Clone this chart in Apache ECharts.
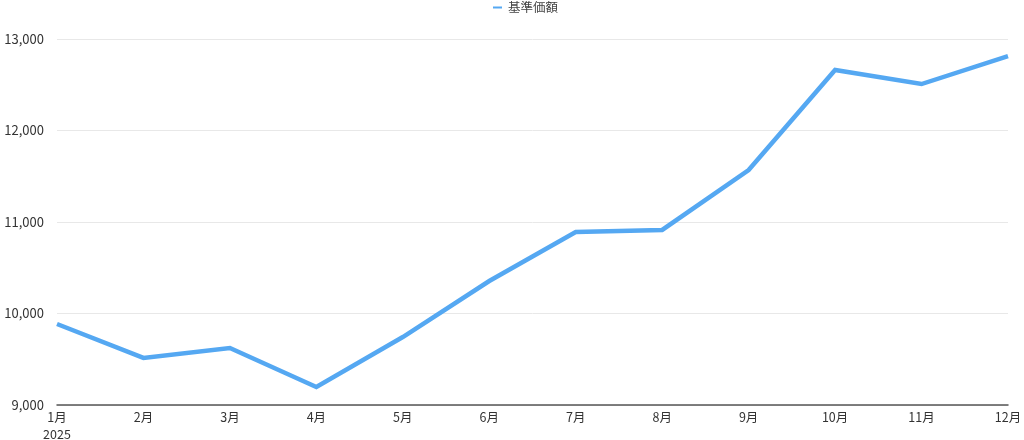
<!DOCTYPE html>
<html>
<head>
<meta charset="utf-8">
<script src="https://cdn.jsdelivr.net/npm/echarts@6/dist/echarts.min.js"></script>
<style>
html,body{margin:0;padding:0;background:#fff;}
#chart{width:1024px;height:440px;}
</style>
</head>
<body>
<div id="chart"></div>
<script>
const categories = ['1月','2月','3月','4月','5月','6月','7月','8月','9月','10月','11月','12月'];
const seriesName = '基準価額';
const values = [9885, 9514, 9623, 9197, 9743, 10355, 10891, 10913, 11568, 12661, 12508, 12814];
const yTicks = { min: 9000, max: 13000, interval: 1000 };
const yearLabel = '2025';

const chart = echarts.init(document.getElementById('chart'));
chart.setOption({
  animation: false,
  textStyle: { fontFamily: '"Noto Sans CJK JP", "Noto Sans", sans-serif' },
  legend: {
    top: 1,
    left: 493,
    padding: 0,
    icon: 'rect',
    itemWidth: 9,
    itemHeight: 2,
    itemGap: 10,
    textStyle: { fontSize: 12.5, color: '#444', lineHeight: 13, padding: [0, 0, 0, 1] },
    data: [seriesName]
  },
  grid: { left: 57, right: 16, top: 39, bottom: 35, containLabel: false, outerBoundsMode: 'none' },
  xAxis: {
    type: 'category',
    data: categories,
    boundaryGap: false,
    axisLine: { lineStyle: { color: '#555', width: 1.5 } },
    axisTick: { show: false },
    axisLabel: {
      color: '#333',
      fontSize: 12.5,
      margin: 4,
      lineHeight: 17,
      formatter: (v, i) => i === 0 ? v + '\n' + yearLabel : v
    },
    splitLine: { show: false }
  },
  yAxis: {
    type: 'value',
    min: yTicks.min,
    max: yTicks.max,
    interval: yTicks.interval,
    axisLine: { show: false },
    axisTick: { show: false },
    axisLabel: {
      color: '#333',
      fontSize: 13,
      margin: 13,
      formatter: v => v.toLocaleString('en-US')
    },
    splitLine: { lineStyle: { color: '#e8e8e8', width: 1 } }
  },
  series: [{
    name: seriesName,
    type: 'line',
    data: values,
    showSymbol: false,
    symbol: 'none',
    lineStyle: { color: '#55a8f2', width: 4.5, join: 'miter' },
    itemStyle: { color: '#55a8f2' }
  }]
});
</script>
</body>
</html>
